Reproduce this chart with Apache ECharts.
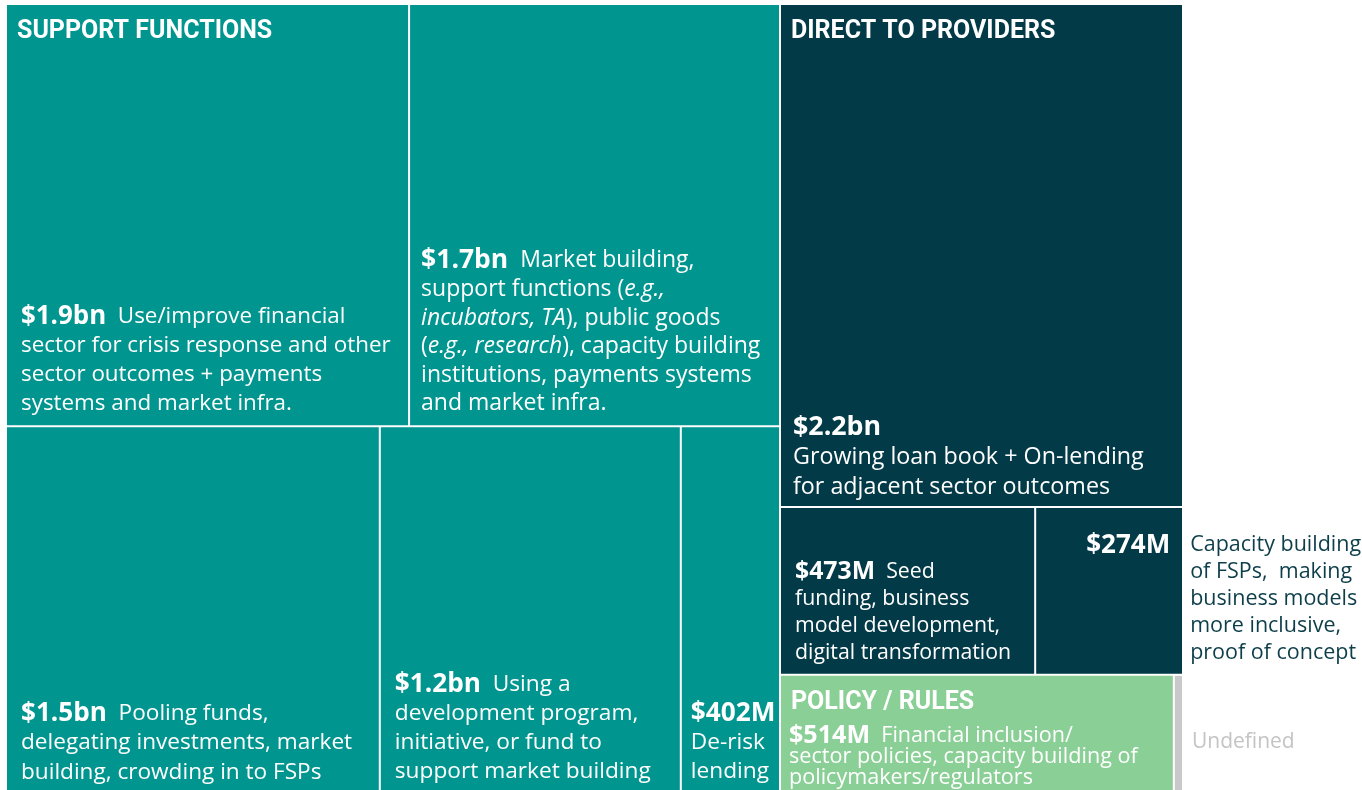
<!DOCTYPE html>
<html>
<head>
<meta charset="utf-8">
<title>Funding by channel</title>
<script src="https://cdn.jsdelivr.net/npm/echarts@6/dist/echarts.min.js"></script>
<style>
  html, body { margin: 0; padding: 0; background: #fff; }
  #grafica { width: 1362px; height: 790px; }
</style>
</head>
<body>
<div id="grafica"></div>
<script>
// amounts are in $M
const groupNames = ['Support functions', 'Direct to providers', 'Policy / rules', 'Undefined'];
const groupTitles = ['SUPPORT FUNCTIONS', 'DIRECT TO PROVIDERS', 'POLICY / RULES', ''];

const supportItems = ['Crisis response & payments', 'Market building & public goods', 'Pooling funds', 'Development program', 'De-risk lending'];
const supportValues = [1880, 1730, 1515, 1220, 402];
const supportNotes = [
  '  Use/improve financial\nsector for crisis response and other\nsector outcomes + payments\nsystems and market infra.',
  '  Market building,\nsupport functions (*e.g.,*\n*incubators, TA*), public goods\n(*e.g., research*), capacity building\ninstitutions, payments systems\nand market infra.',
  '  Pooling funds,\ndelegating investments, market\nbuilding, crowding in to FSPs',
  '  Using a\ndevelopment program,\ninitiative, or fund to\nsupport market building',
  '\nDe-risk\nlending'
];

const directItems = ['Loan book & on-lending', 'Seed funding', 'Capacity building of FSPs'];
const directValues = [2240, 473, 274];
const directNotes = [
  '\nGrowing loan book + On-lending\nfor adjacent sector outcomes',
  '  Seed\nfunding, business\nmodel development,\ndigital transformation',
  ''
];
const directOutside = ['', '', 'Capacity building\nof FSPs,  making\nbusiness models\nmore inclusive,\nproof of concept'];

const policyItems = ['Financial inclusion policies'];
const policyValues = [514];
const policyNotes = ['  Financial inclusion/\nsector policies, capacity building of\npolicymakers/regulators'];

const undefinedItems = ['Undefined'];
const undefinedValues = [12];

// looks
const FONT = '"Open Sans", "Noto Sans", sans-serif';
const TITLE_FONT = 'Roboto, "Liberation Sans", sans-serif';
const groupColors = ['#00958f', '#023a47', '#8acf95', '#c9c9c9'];
const supportLook = { fs: [22.4, 23, 22.6, 22.7, 22.7], lh: [29, 28.6, 29.5, 29, 29], padL: [14, 11, 14, 14, 9], padB: [7, 7, 5, 6, 6] };
const directLook = { fs: [23.3, 21.3, 21.5], lh: [30, 27, 27], padL: [12, 14, 50], padB: [4, 7, 7] };
const policyLook = { fs: [21.6], lh: [21], padL: [8], padB: [4] };

const labelInfo = {};

function money(v) {
  return v >= 1000 ? '$' + (v / 1000).toFixed(1) + 'bn' : '$' + v + 'M';
}

function makeRich(fs, lh) {
  return {
    v: { fontFamily: FONT, fontSize: fs + 3.5, fontWeight: 'bold', lineHeight: lh, color: '#fff' },
    w: { fontFamily: FONT, fontSize: 26, fontWeight: 'bold', lineHeight: lh, color: '#fff', width: 104 },
    t: { fontFamily: FONT, fontSize: fs, lineHeight: lh, color: '#fff' },
    i: { fontFamily: FONT, fontSize: fs, fontStyle: 'italic', lineHeight: lh, color: '#fff' },
    o: { fontFamily: FONT, fontSize: fs, lineHeight: lh, color: '#0d3e4a' },
    s: { fontFamily: FONT, fontSize: fs, lineHeight: lh, width: 104 },
    u: { fontFamily: FONT, fontSize: 21, lineHeight: lh, color: '#c4c4c4' }
  };
}

function buildLabel(amount, note, outside) {
  let s;
  if (outside) {
    const lines = outside.split('\n');
    s = '{w|' + amount + '}{o|' + lines[0] + '}';
    lines.slice(1).forEach(l => { s += '\n{s| }{o|' + l + '}'; });
  } else {
    s = '{v|' + amount + '}';
    note.split('*').forEach((p, k) => {
      if (p) s += '{' + (k % 2 ? 'i' : 't') + '|' + p + '}';
    });
  }
  return s;
}

function leaf(name, value, note, outside, g, look, k, title) {
  const txt = buildLabel(money(value), note, outside);
  labelInfo[txt] = { lines: txt.split('\n').length, lh: look.lh[k], padL: look.padL[k], padB: look.padB[k] };
  return {
    name: name,
    value: value,
    txt: txt,
    title: title,
    itemStyle: { color: groupColors[g] },
    label: { rich: makeRich(look.fs[k], look.lh[k]) }
  };
}

const datos = [
  {
    name: groupNames[0],
    children: supportItems.map((n, k) => leaf(n, supportValues[k], supportNotes[k], '', 0, supportLook, k, k === 0 ? groupTitles[0] : ''))
  },
  {
    name: groupNames[1],
    children: directItems.map((n, k) => leaf(n, directValues[k], directNotes[k], directOutside[k], 1, directLook, k, k === 0 ? groupTitles[1] : ''))
  },
  {
    name: groupNames[2],
    children: policyItems.map((n, k) => leaf(n, policyValues[k], policyNotes[k], '', 2, policyLook, k, k === 0 ? groupTitles[2] : ''))
  },
  {
    name: groupNames[3],
    children: undefinedItems.map((n, k) => {
      const txt = '{u|' + n + '}';
      labelInfo[txt] = { side: true, lh: 26, padL: 10, dy: 8 };
      return { name: n, value: undefinedValues[k], txt: txt, title: '', itemStyle: { color: groupColors[3] }, label: { rich: makeRich(21, 26) } };
    })
  }
];

const box = { left: 7, top: 5, width: 1175, height: 787 };

function Grafica() {
  var dom = document.getElementById('grafica');
  var myChart = echarts.init(dom, null, { renderer: 'canvas' });

  var option = {
    animation: false,
    tooltip: { show: false },
    series: [
      {
        type: 'treemap',
        left: box.left, top: box.top, width: box.width, height: box.height,
        roam: false,
        nodeClick: false,
        breadcrumb: { show: false },
        visibleMin: 0,
        itemStyle: { borderWidth: 0, gapWidth: 2, borderColor: '#fff' },
        upperLabel: { show: false },
        label: {
          show: true,
          position: 'insideTopLeft',
          padding: 0,
          overflow: 'none',
          formatter: p => p.data.txt || ''
        },
        labelLayout: function (p) {
          const m = labelInfo[p.text];
          if (!m) return {};
          if (m.side) {
            return { x: p.rect.x + p.rect.width + m.padL, y: p.rect.y + p.rect.height / 2 + m.dy - m.lh / 2, align: 'left', verticalAlign: 'top' };
          }
          return { x: p.rect.x + m.padL, y: p.rect.y + p.rect.height - m.padB - m.lines * m.lh, align: 'left', verticalAlign: 'top' };
        },
        data: datos
      },
      {
        // group titles, same layout, transparent cells
        type: 'treemap',
        silent: true,
        left: box.left, top: box.top, width: box.width, height: box.height,
        roam: false,
        nodeClick: false,
        breadcrumb: { show: false },
        visibleMin: 0,
        itemStyle: { borderWidth: 0, gapWidth: 2, borderColor: 'rgba(0,0,0,0)', color: 'rgba(0,0,0,0)' },
        upperLabel: { show: false },
        label: {
          show: true,
          position: 'insideTopLeft',
          padding: 0,
          overflow: 'none',
          color: '#fff',
          fontFamily: TITLE_FONT,
          fontWeight: 'bold',
          fontSize: 25,
          lineHeight: 30,
          formatter: p => p.data.title || ''
        },
        labelLayout: function (p) {
          if (!p.text) return {};
          return { x: p.rect.x + 10, y: p.rect.y + 12, align: 'left', verticalAlign: 'top' };
        },
        data: datos.map(g => ({
          name: g.name,
          children: g.children.map(c => ({ name: c.name, value: c.value, title: c.title, itemStyle: { color: 'rgba(0,0,0,0)' } }))
        }))
      }
    ]
  };

  if (option && typeof option === 'object') {
    myChart.setOption(option);
  }
  window.addEventListener('resize', myChart.resize);
}

Grafica();
</script>
</body>
</html>
